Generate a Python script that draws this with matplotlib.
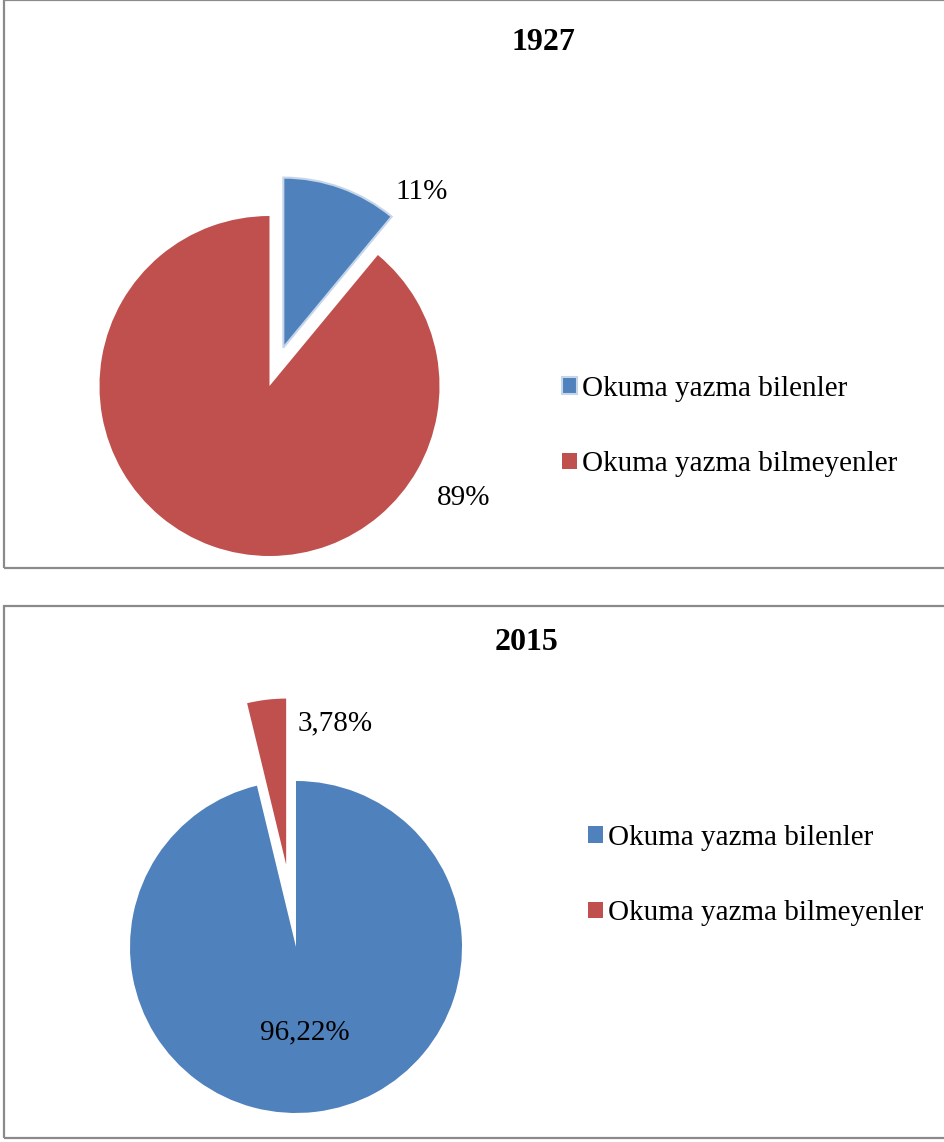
import matplotlib.pyplot as plt
from matplotlib.patches import Rectangle
import numpy as np

plt.rcParams['font.family'] = ['Liberation Serif', 'DejaVu Serif']

categories = ['Okuma yazma bilenler', 'Okuma yazma bilmeyenler']
years = ['1927', '2015']
values_1927 = [11, 89]
values_2015 = [96.22, 3.78]
labels_1927 = ['11%', '89%']
labels_2015 = ['96,22%', '3,78%']

blue = '#4f81bd'
red = '#c0504d'
W, H = 944, 1142

fig = plt.figure(figsize=(W / 100, H / 100), dpi=100)


def px_axes(cx, cy, r, span):
    # axes whose data range is [-span, span], centred on pixel (cx, cy) with radius r px
    half = span * r
    return fig.add_axes([(cx - half) / W, (H - cy - half) / H, 2 * half / W, 2 * half / H])


def put_label(ax, text, dist, ang):
    a = np.deg2rad(ang)
    ax.text(dist * np.cos(a), dist * np.sin(a), text, fontsize=21,
            ha='center', va='center', clip_on=False)


# panel frames
for y0, y1 in [(0, 568), (606, 1138)]:
    fig.add_artist(Rectangle((4 / W, 1 - y1 / H), 1.0, (y1 - y0) / H, transform=fig.transFigure,
                             fill=False, edgecolor='#8a8a8a', linewidth=1.6))

# 1927
ax1 = px_axes(269.5, 386, 170, 1.5)
w1, _ = ax1.pie(values_1927, colors=[blue, red], startangle=90, counterclock=False,
                explode=[0.24, 0], radius=1.0)
w1[0].set_edgecolor('#c6d6ea')
w1[0].set_linewidth(1.5)
w1[1].set_edgecolor('white')
w1[1].set_linewidth(0)
for w in w1:
    w.set_clip_on(False)
ax1.set_xlim(-1.5, 1.5)
ax1.set_ylim(-1.5, 1.5)
ax1.set_aspect('equal')
ax1.axis('off')
put_label(ax1, labels_1927[0], 1.45, 52)
put_label(ax1, labels_1927[1], 1.32, -30)
fig.text(543 / W, 1 - 42 / H, years[0], fontsize=23, fontweight='bold', ha='center', va='center')
fig.legend(w1, categories, loc='center left', bbox_to_anchor=(562 / W, 1 - 426.5 / H),
           frameon=False, fontsize=21, handlelength=0.5, handleheight=0.5,
           handletextpad=0.2, labelspacing=1.7, borderpad=0, borderaxespad=0)

# 2015
ax2 = px_axes(296, 947, 166, 1.6)
w2, _ = ax2.pie(values_2015, colors=[blue, red], startangle=90, counterclock=False,
                explode=[0, 0.5], radius=1.0, wedgeprops=dict(linewidth=0))
for w in w2:
    w.set_clip_on(False)
ax2.set_xlim(-1.6, 1.6)
ax2.set_ylim(-1.6, 1.6)
ax2.set_aspect('equal')
ax2.axis('off')
put_label(ax2, labels_2015[0], 0.52, -84)
put_label(ax2, labels_2015[1], 1.37, 80)
fig.text(527 / W, 1 - 643 / H, years[1], fontsize=23, fontweight='bold', ha='center', va='center')
fig.legend(w2, categories, loc='center left', bbox_to_anchor=(588 / W, 1 - 875.5 / H),
           frameon=False, fontsize=21, handlelength=0.5, handleheight=0.5,
           handletextpad=0.2, labelspacing=1.7, borderpad=0, borderaxespad=0)

fig.savefig('out.png', dpi=100)
